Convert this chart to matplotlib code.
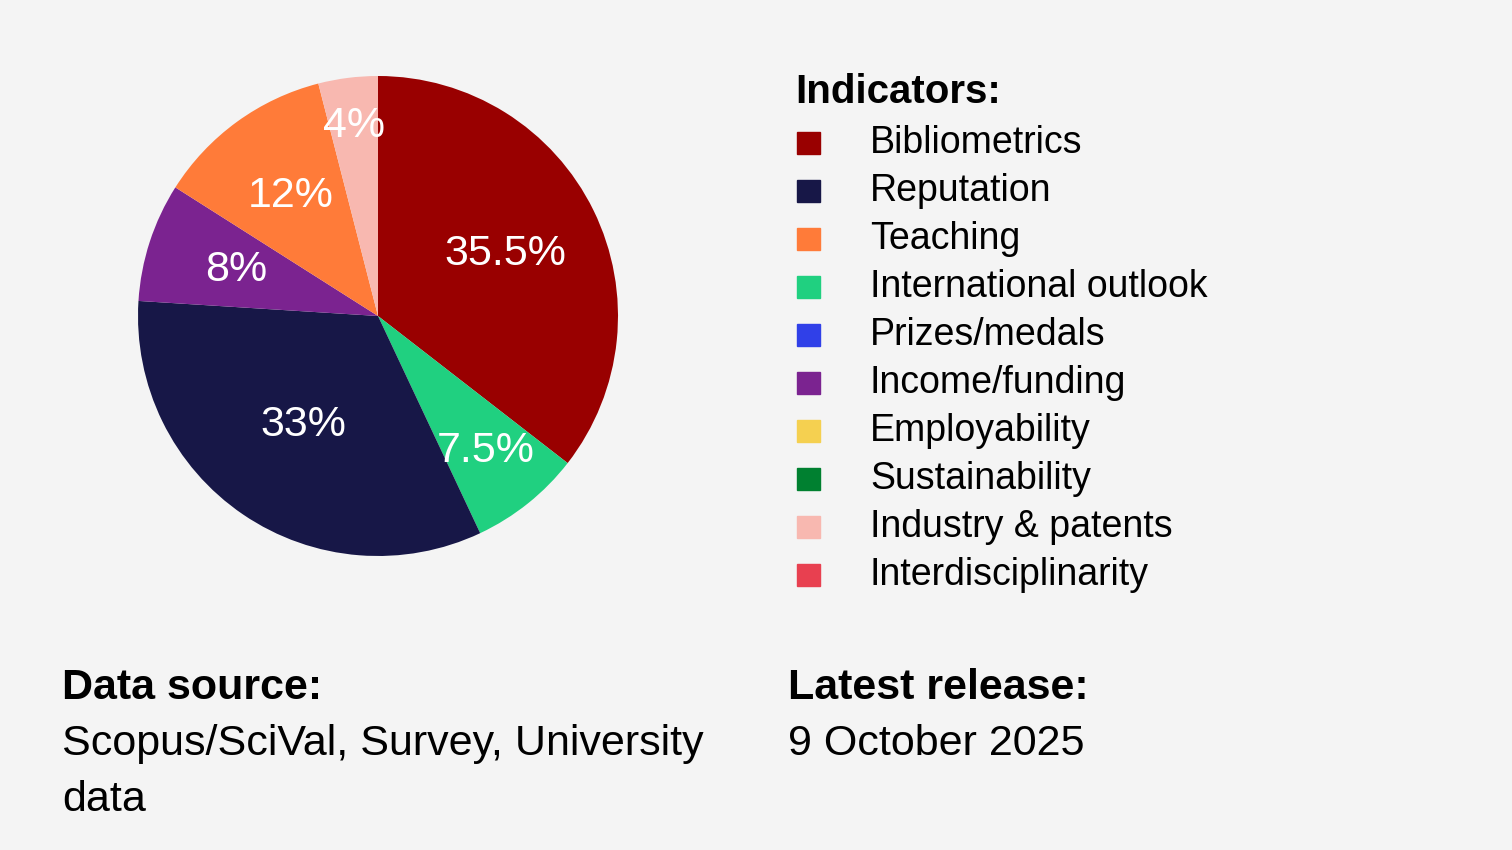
import matplotlib
matplotlib.use("Agg")
import matplotlib.pyplot as plt
import numpy as np

plt.rcParams['font.family'] = ['Liberation Sans', 'DejaVu Sans']

slice_labels = ["Bibliometrics", "International outlook", "Reputation", "Income/funding", "Teaching", "Industry & patents"]
slice_values = [35.5, 7.5, 33, 8, 12, 4]
slice_texts = ["35.5%", "7.5%", "33%", "8%", "12%", "4%"]
slice_colors = ["#990000", "#20d080", "#171747", "#7b2390", "#ff7b39", "#f8b8b0"]
label_dist = [0.59, 0.72, 0.55, 0.62, 0.62, 0.80]

legend_labels = ["Bibliometrics", "Reputation", "Teaching", "International outlook", "Prizes/medals",
                 "Income/funding", "Employability", "Sustainability", "Industry & patents", "Interdisciplinarity"]
legend_colors = ["#990000", "#171747", "#ff7b39", "#20d080", "#3040e8",
                 "#7b2390", "#f5d050", "#008030", "#f8b8b0", "#e84050"]

W, H = 1512, 850
fig = plt.figure(figsize=(W/100, H/100), dpi=100, facecolor="#f4f4f4")
cx, cy, r = 378, 316, 240
ax = fig.add_axes([(cx-r)/W, 1-(cy+r)/H, 2*r/W, 2*r/H])
ax.set_facecolor("#f4f4f4")
wedges, _ = ax.pie(slice_values, colors=slice_colors, startangle=90, counterclock=False, radius=1)
ax.set_xlim(-1, 1); ax.set_ylim(-1, 1); ax.set_aspect('equal'); ax.axis('off')
for w, t, d in zip(wedges, slice_texts, label_dist):
    a = np.deg2rad((w.theta1 + w.theta2) / 2)
    ax.text(d*np.cos(a), d*np.sin(a), t, color="white", fontsize=31, ha='center', va='center')

def ft(x, y, s, **kw):
    fig.text(x/W, 1-y/H, s, **kw)

ft(795, 92, "Indicators:", fontsize=29, fontweight='bold', va='center')
for i, (lab, col) in enumerate(zip(legend_labels, legend_colors)):
    y = 143 + 48*i
    fig.patches.append(plt.Rectangle((797/W, 1-(y+11)/H), 23/W, 22/H, transform=fig.transFigure, color=col))
    ft(870, y, lab, fontsize=27, va='center')

ft(62, 688, "Data source:", fontsize=31, fontweight='bold', va='center')
ft(62, 744, "Scopus/SciVal, Survey, University", fontsize=31, va='center')
ft(62, 800, "data", fontsize=31, va='center')
ft(788, 688, "Latest release:", fontsize=31, fontweight='bold', va='center')
ft(788, 744, "9 October 2025", fontsize=31, va='center')

fig.savefig("out.png", dpi=100, facecolor=fig.get_facecolor())
